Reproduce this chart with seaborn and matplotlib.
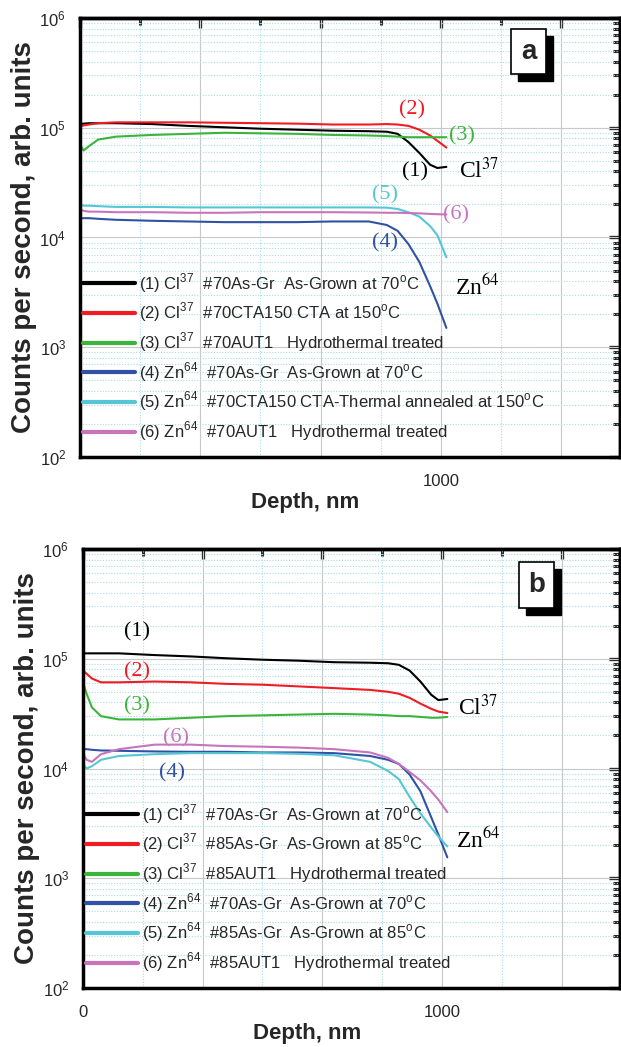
import numpy as np
import pandas as pd
import matplotlib
matplotlib.use("Agg")
import matplotlib.pyplot as plt
import matplotlib.font_manager as fm
from matplotlib.lines import Line2D
from matplotlib.patches import Rectangle
from matplotlib.ticker import MultipleLocator, LogLocator, FixedFormatter, FixedLocator, LogFormatterSciNotation, NullFormatter
import seaborn as sns

# ---------------- data ----------------
depth_a = [0, 10, 25, 50, 100, 200, 300, 400, 500, 600, 700, 800, 850, 880, 910, 940, 970, 990, 1015]
cl_70asgr_a = [1.08e5, 1.09e5, 1.10e5, 1.10e5, 1.10e5, 1.08e5, 1.04e5, 1.01e5, 9.8e4, 9.6e4, 9.4e4, 9.3e4, 9.2e4, 8.8e4, 7.4e4, 5.9e4, 4.6e4, 4.3e4, 4.4e4]
cl_70cta_a = [1.03e5, 1.05e5, 1.07e5, 1.10e5, 1.12e5, 1.12e5, 1.12e5, 1.11e5, 1.10e5, 1.09e5, 1.07e5, 1.07e5, 1.08e5, 1.07e5, 1.04e5, 9.6e4, 8.5e4, 7.6e4, 6.6e4]
cl_70aut_a = [7.0e4, 6.2e4, 6.8e4, 7.8e4, 8.3e4, 8.6e4, 8.8e4, 9.0e4, 8.9e4, 8.8e4, 8.6e4, 8.5e4, 8.4e4, 8.3e4, 8.2e4, 8.2e4, 8.2e4, 8.2e4, 8.2e4]
zn_70asgr_a = [1.5e4, 1.5e4, 1.5e4, 1.48e4, 1.45e4, 1.42e4, 1.4e4, 1.38e4, 1.38e4, 1.38e4, 1.4e4, 1.4e4, 1.3e4, 1.15e4, 8.7e3, 6.0e3, 3.6e3, 2.5e3, 1.5e3]
zn_70cta_a = [2.0e4, 1.95e4, 1.95e4, 1.93e4, 1.9e4, 1.9e4, 1.88e4, 1.88e4, 1.88e4, 1.88e4, 1.88e4, 1.88e4, 1.87e4, 1.82e4, 1.7e4, 1.55e4, 1.27e4, 1.05e4, 6.6e3]
zn_70aut_a = [1.8e4, 1.75e4, 1.72e4, 1.72e4, 1.7e4, 1.7e4, 1.68e4, 1.68e4, 1.7e4, 1.7e4, 1.7e4, 1.69e4, 1.68e4, 1.68e4, 1.67e4, 1.66e4, 1.64e4, 1.63e4, 1.62e4]

depth_b = [0, 10, 25, 50, 100, 200, 300, 400, 500, 600, 700, 800, 850, 880, 910, 940, 970, 990, 1015]
cl_70asgr_b = [1.12e5, 1.12e5, 1.12e5, 1.12e5, 1.12e5, 1.08e5, 1.05e5, 1.01e5, 9.8e4, 9.6e4, 9.3e4, 9.2e4, 9.1e4, 8.8e4, 7.8e4, 6.2e4, 4.7e4, 4.2e4, 4.3e4]
cl_85asgr_b = [7.8e4, 7.3e4, 6.6e4, 6.1e4, 6.1e4, 6.2e4, 6.1e4, 5.9e4, 5.8e4, 5.6e4, 5.4e4, 5.2e4, 5.0e4, 4.8e4, 4.4e4, 3.9e4, 3.5e4, 3.3e4, 3.2e4]
cl_85aut_b = [6.1e4, 4.8e4, 3.6e4, 3.0e4, 2.8e4, 2.8e4, 2.9e4, 3.0e4, 3.05e4, 3.1e4, 3.15e4, 3.1e4, 3.05e4, 3.0e4, 3.0e4, 2.95e4, 2.9e4, 2.9e4, 2.95e4]
zn_70asgr_b = [1.5e4, 1.5e4, 1.48e4, 1.46e4, 1.45e4, 1.43e4, 1.42e4, 1.42e4, 1.4e4, 1.4e4, 1.38e4, 1.3e4, 1.2e4, 1.1e4, 8.8e3, 6.2e3, 3.6e3, 2.5e3, 1.55e3]
zn_85asgr_b = [1.1e4, 1.0e4, 1.05e4, 1.2e4, 1.3e4, 1.35e4, 1.38e4, 1.38e4, 1.38e4, 1.36e4, 1.32e4, 1.15e4, 9.5e3, 8.0e3, 5.5e3, 3.9e3, 2.9e3, 2.4e3, 1.95e3]
zn_85aut_b = [1.38e4, 1.2e4, 1.15e4, 1.35e4, 1.5e4, 1.65e4, 1.65e4, 1.6e4, 1.58e4, 1.55e4, 1.5e4, 1.4e4, 1.25e4, 1.1e4, 9.3e3, 7.8e3, 6.2e3, 5.2e3, 4.0e3]

series_ids = ["1", "2", "3", "4", "5", "6"]
colors = ["#000000", "#f01c24", "#3cb43c", "#2f52a4", "#56c6d6", "#c874bc"]

labels_a = [r"(1) Cl$^{\mathdefault{37}}$  #70As-Gr  As-Grown at 70$^{\mathdefault{o}}$C",
            r"(2) Cl$^{\mathdefault{37}}$  #70CTA150 CTA at 150$^{\mathdefault{o}}$C",
            r"(3) Cl$^{\mathdefault{37}}$  #70AUT1   Hydrothermal treated",
            r"(4) Zn$^{\mathdefault{64}}$  #70As-Gr  As-Grown at 70$^{\mathdefault{o}}$C",
            r"(5) Zn$^{\mathdefault{64}}$  #70CTA150 CTA-Thermal annealed at 150$^{\mathdefault{o}}$C",
            r"(6) Zn$^{\mathdefault{64}}$  #70AUT1   Hydrothermal treated"]
labels_b = [r"(1) Cl$^{\mathdefault{37}}$  #70As-Gr  As-Grown at 70$^{\mathdefault{o}}$C",
            r"(2) Cl$^{\mathdefault{37}}$  #85As-Gr  As-Grown at 85$^{\mathdefault{o}}$C",
            r"(3) Cl$^{\mathdefault{37}}$  #85AUT1   Hydrothermal treated",
            r"(4) Zn$^{\mathdefault{64}}$  #70As-Gr  As-Grown at 70$^{\mathdefault{o}}$C",
            r"(5) Zn$^{\mathdefault{64}}$  #85As-Gr  As-Grown at 85$^{\mathdefault{o}}$C",
            r"(6) Zn$^{\mathdefault{64}}$  #85AUT1   Hydrothermal treated"]

# ---------------- style ----------------
sns.set_theme(style="white")
names = {f.name for f in fm.fontManager.ttflist}
NARROW = "Liberation Sans Narrow" if "Liberation Sans Narrow" in names else "Liberation Sans"
LEG_FS = 13 if NARROW == "Liberation Sans Narrow" else 12
plt.rcParams["font.family"] = [NARROW, "DejaVu Sans"]
plt.rcParams["mathtext.fontset"] = "stix"
SERIF = ["Liberation Serif", "DejaVu Serif"]
BOLD = ["Liberation Sans", "DejaVu Sans"]

W, H = 621, 1047
fig = plt.figure(figsize=(W / 100, H / 100), dpi=100)
fig.patch.set_facecolor("white")

axA = fig.add_axes([80 / W, 1 - 457 / H, 540 / W, 439 / H])
axB = fig.add_axes([83 / W, 1 - 988 / H, 537 / W, 439 / H])

XT = [0, 1000 / 3, 2000 / 3, 1000, 4000 / 3]


def draw(ax, depth, arrays, labels, show_zero):
    frames = []
    for sid, arr in zip(series_ids, arrays):
        frames.append(pd.DataFrame({"depth": depth, "counts": arr, "series": sid}))
    df = pd.concat(frames, ignore_index=True)
    ax.set_yscale("log")
    sns.lineplot(data=df, x="depth", y="counts", hue="series", palette=dict(zip(series_ids, colors)),
                 ax=ax, legend=False, linewidth=1.5, estimator=None, sort=True)
    ax.set_xlim(0, 1496)
    ax.set_ylim(1e2, 1e6)
    ax.set_facecolor("white")
    ax.xaxis.set_major_locator(FixedLocator(XT))
    ax.xaxis.set_minor_locator(MultipleLocator(1000 / 6))
    ax.yaxis.set_major_locator(LogLocator(base=10, numticks=10))
    ax.yaxis.set_minor_locator(LogLocator(base=10, subs=np.arange(2, 10), numticks=20))
    ax.grid(True, which="major", color="#c8c8c8", linewidth=0.8, linestyle="-")
    ax.grid(True, which="minor", color="#a9dce4", linewidth=0.8, linestyle=(0, (1, 1.5)))
    ax.set_axisbelow(True)
    ax.tick_params(axis="x", which="major", direction="out", length=7, width=2.4, labelsize=12, pad=5)
    ax.tick_params(axis="x", which="minor", direction="out", length=5, width=2.2)
    ax.tick_params(axis="y", which="major", direction="out", length=7, width=2.4, labelsize=12, pad=3)
    ax.tick_params(axis="y", which="minor", direction="inout", length=6, width=2.2)
    for s in ax.spines.values():
        s.set_linewidth(2.5)
        s.set_color("black")
    ax.yaxis.set_major_formatter(LogFormatterSciNotation())
    ax.yaxis.set_minor_formatter(NullFormatter())
    ax.xaxis.set_major_formatter(FixedFormatter(["0" if show_zero else "", "", "", "1000", ""]))
    top = ax.secondary_xaxis("top")
    top.set_xticks(XT)
    top.xaxis.set_minor_locator(MultipleLocator(1000 / 6))
    top.tick_params(which="major", direction="in", length=7, width=2.4, labeltop=False)
    top.tick_params(which="minor", direction="in", length=5, width=2.2)
    top.spines["top"].set_linewidth(2.5)
    right = ax.secondary_yaxis("right")
    right.set_yscale("log")
    right.yaxis.set_major_locator(LogLocator(base=10, numticks=10))
    right.yaxis.set_minor_locator(LogLocator(base=10, subs=np.arange(2, 10), numticks=20))
    right.tick_params(which="major", direction="in", length=8, width=2.4, labelright=False)
    right.tick_params(which="minor", direction="in", length=5, width=2.2, labelright=False)
    right.yaxis.set_major_formatter(NullFormatter())
    right.yaxis.set_minor_formatter(NullFormatter())
    right.spines["right"].set_linewidth(2.5)
    ax.set_xlabel("Depth, nm", fontsize=16, fontweight="bold", family=BOLD, labelpad=4)
    ax.xaxis.set_label_coords(0.417, -0.08)
    ax.set_ylabel("Counts per second, arb. units", fontsize=20, fontweight="bold", family=BOLD, labelpad=2)
    handles = [Line2D([], [], color=c, linewidth=3) for c in colors]
    ax.legend(handles, labels, loc="lower left", bbox_to_anchor=(0.0, 0.024), frameon=False,
              fontsize=LEG_FS, handlelength=3.1, handletextpad=0.24, labelspacing=0.4, borderaxespad=0.0,
              borderpad=0.2)


draw(axA, depth_a, [cl_70asgr_a, cl_70cta_a, cl_70aut_a, zn_70asgr_a, zn_70cta_a, zn_70aut_a], labels_a, False)
draw(axB, depth_b, [cl_70asgr_b, cl_85asgr_b, cl_85aut_b, zn_70asgr_b, zn_85asgr_b, zn_85aut_b], labels_b, True)


def lab(ax, x, y, t, c, fs=16):
    ax.text(x, y, t, color=c, fontsize=fs, family=SERIF, ha="center", va="center")


lab(axA, 920, 1.46e5, "(2)", colors[1])
lab(axA, 1058, 8.5e4, "(3)", colors[2])
lab(axA, 928, 4.0e4, "(1)", colors[0])
lab(axA, 845, 2.46e4, "(5)", colors[4])
lab(axA, 1042, 1.62e4, "(6)", colors[5])
lab(axA, 845, 9.0e3, "(4)", colors[3])
lab(axA, 1105, 4.1e4, r"Cl$^{37}$", "black", 17)
lab(axA, 1100, 3.5e3, r"Zn$^{64}$", "black", 17)

lab(axB, 150, 1.76e5, "(1)", colors[0])
lab(axB, 150, 7.6e4, "(2)", colors[1])
lab(axB, 150, 3.74e4, "(3)", colors[2])
lab(axB, 258, 1.91e4, "(6)", colors[5])
lab(axB, 247, 9.2e3, "(4)", colors[3])
lab(axB, 1100, 3.6e4, r"Cl$^{37}$", "black", 17)
lab(axB, 1102, 2.2e3, r"Zn$^{64}$", "black", 17)


def letter_box(ax, x0, y0, w, h, letter):
    ax.add_patch(Rectangle((x0 + 0.013, y0 - 0.016), w, h, transform=ax.transAxes, facecolor="black",
                           edgecolor="black", zorder=10, clip_on=False))
    ax.add_patch(Rectangle((x0, y0), w, h, transform=ax.transAxes, facecolor="white",
                           edgecolor="black", linewidth=1.2, zorder=11, clip_on=False))
    ax.text(x0 + w / 2, y0 + h / 2, letter, transform=ax.transAxes, ha="center", va="center",
            fontsize=20, fontweight="bold", family=BOLD, zorder=12)


letter_box(axA, 0.798, 0.872, 0.065, 0.103, "a")
letter_box(axB, 0.812, 0.866, 0.065, 0.104, "b")

fig.savefig("out.png", dpi=100)
